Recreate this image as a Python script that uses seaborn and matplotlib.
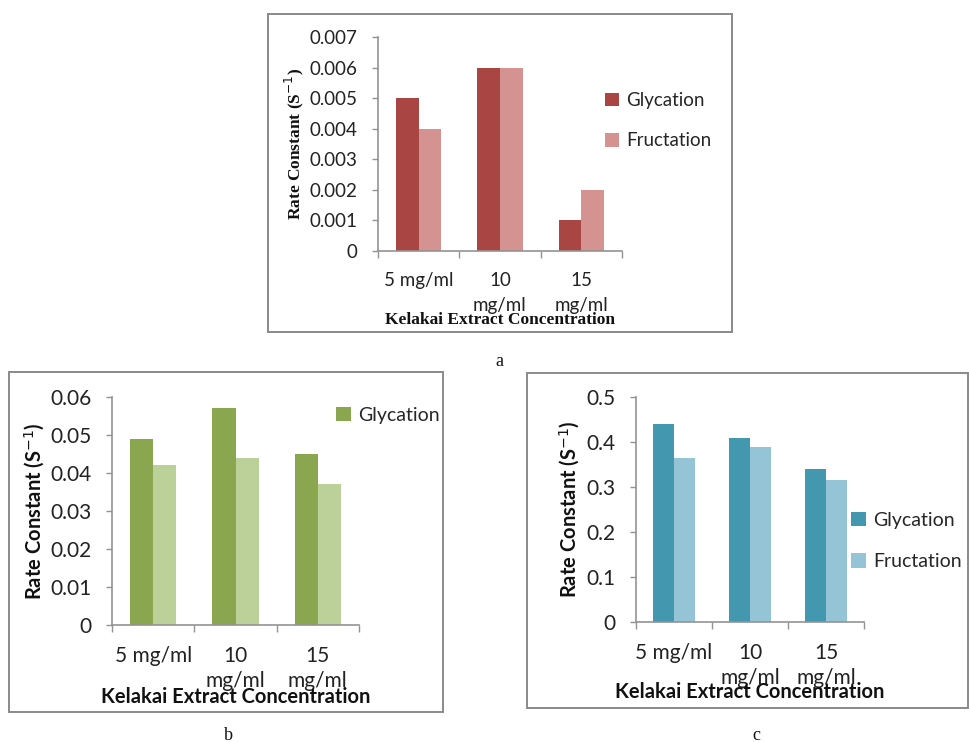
import matplotlib
matplotlib.use("Agg")
import matplotlib.pyplot as plt
import seaborn as sns
import pandas as pd
from matplotlib.patches import Rectangle, Patch

# ---- data ----
categories = ["5 mg/ml", "10\nmg/ml", "15\nmg/ml"]
series = ["Glycation", "Fructation"]
a_glycation = [0.005, 0.006, 0.001]
a_fructation = [0.004, 0.006, 0.002]
b_glycation = [0.049, 0.057, 0.045]
b_fructation = [0.042, 0.044, 0.037]
c_glycation = [0.44, 0.41, 0.34]
c_fructation = [0.365, 0.388, 0.315]
a_yticks = [0, 0.001, 0.002, 0.003, 0.004, 0.005, 0.006, 0.007]
a_yticklabels = ["0", "0.001", "0.002", "0.003", "0.004", "0.005", "0.006", "0.007"]
b_yticks = [0, 0.01, 0.02, 0.03, 0.04, 0.05, 0.06]
b_yticklabels = ["0", "0.01", "0.02", "0.03", "0.04", "0.05", "0.06"]
c_yticks = [0, 0.1, 0.2, 0.3, 0.4, 0.5]
c_yticklabels = ["0", "0.1", "0.2", "0.3", "0.4", "0.5"]
xlabel = "Kelakai Extract Concentration"
ylabel = r"Rate Constant (S$^{-1}$)"

sns.set_theme(style="white")
plt.rcParams["font.family"] = ["Lato", "DejaVu Sans"]

W, H = 970, 742
fig = plt.figure(figsize=(W / 100, H / 100), dpi=100)
fig.patch.set_facecolor("white")

SPINE = "#939393"


def px_axes(x0, y0, x1, y1):
    return fig.add_axes([x0 / W, 1 - y1 / H, (x1 - x0) / W, (y1 - y0) / H])


def box(x0, y0, x1, y1):
    fig.patches.append(Rectangle((x0 / W, 1 - y1 / H), (x1 - x0) / W, (y1 - y0) / H,
                                 transform=fig.transFigure, fill=False,
                                 edgecolor="#8a8a8a", linewidth=1.4, zorder=0))


def panel(ax, gly, fru, colors, yticks, yticklabels, ymax, tick_fs, ypad, linesp,
          lab_font, lab_fs, legend_names, legend_anchor, leg_fs, leg_spacing,
          ylabel_x, xlabel_y):
    df = pd.DataFrame({
        "conc": categories * 2,
        "rate": list(gly) + list(fru),
        "series": [series[0]] * 3 + [series[1]] * 3,
    })
    sns.barplot(data=df, x="conc", y="rate", hue="series", hue_order=series,
                palette=colors, width=0.56, saturation=1, ax=ax, legend=False,
                errorbar=None, edgecolor="none", linewidth=0)
    ax.set_xlim(-0.5, 2.5)
    ax.set_ylim(0, ymax)
    for s in ["top", "right"]:
        ax.spines[s].set_visible(False)
    for s in ["left", "bottom"]:
        ax.spines[s].set_color(SPINE)
        ax.spines[s].set_linewidth(1.2)
    ax.set_yticks(yticks)
    ax.set_yticklabels(yticklabels)
    ax.tick_params(axis="y", length=4.5, width=1, color=SPINE, pad=ypad,
                   labelsize=tick_fs, labelcolor="#222222", left=True)
    ax.set_xticks(range(3))
    ax.set_xticklabels(categories, linespacing=linesp)
    ax.tick_params(axis="x", which="major", length=0, pad=15, labelsize=tick_fs,
                   labelcolor="#222222", bottom=True)
    ax.set_xticks([-0.5, 0.5, 1.5, 2.5], minor=True)
    ax.tick_params(axis="x", which="minor", length=5, width=1, color=SPINE,
                   direction="out", bottom=True)
    ax.set_xlabel(xlabel, fontfamily=lab_font, fontweight="bold",
                  fontsize=lab_fs, color="#111111")
    ax.set_ylabel(ylabel, fontfamily=lab_font, fontweight="bold",
                  fontsize=lab_fs, color="#111111")
    pos = ax.get_position()
    ax.yaxis.set_label_coords((ylabel_x / W - pos.x0) / pos.width, 0.5)
    ax.xaxis.set_label_coords(0.5, ((1 - xlabel_y / H) - pos.y0) / pos.height)
    ax.xaxis.label.set_va("center")
    ax.yaxis.label.set_va("center")
    handles = [Patch(facecolor=colors[series.index(n)], edgecolor="none") for n in legend_names]
    ax.legend(handles, legend_names, loc="upper left",
              bbox_to_anchor=(legend_anchor[0] / W, 1 - legend_anchor[1] / H),
              bbox_transform=fig.transFigure, frameon=False, fontsize=leg_fs,
              handlelength=0.75, handleheight=0.75, handletextpad=0.4,
              labelspacing=leg_spacing, borderaxespad=0, borderpad=0)


# panel boxes
box(268, 14, 732, 332)
box(9, 372, 443, 712)
box(527, 373, 968, 708)

# panel a
ax_a = px_axes(378, 37, 622, 251)
panel(ax_a, a_glycation, a_fructation, ["#a94543", "#d49391"], a_yticks, a_yticklabels,
      0.007, 13.5, 10, 1.55, ["Liberation Serif", "DejaVu Serif"], 12.5,
      ["Glycation", "Fructation"], (605, 92), 13.5, 1.25, 294, 320)

# panel b
ax_b = px_axes(112, 397, 359, 625)
panel(ax_b, b_glycation, b_fructation, ["#8aa64e", "#bcd19a"], b_yticks, b_yticklabels,
      0.06, 15, 10.5, 1.3, ["Lato", "DejaVu Sans"], 14.5, ["Glycation"],
      (336, 407), 14, 1.25, 35, 697)

# panel c
ax_c = px_axes(636, 397, 864, 622)
panel(ax_c, c_glycation, c_fructation, ["#4398b0", "#94c4d6"], c_yticks, c_yticklabels,
      0.5, 15, 10.5, 1.3, ["Lato", "DejaVu Sans"], 14.5, ["Glycation", "Fructation"],
      (851, 512), 14, 1.25, 570, 692)

# panel letters
for txt, x, y in [("a", 499, 361), ("b", 228, 735), ("c", 756, 735)]:
    fig.text(x / W, 1 - y / H, txt, ha="center", va="center",
             fontfamily=["Liberation Serif", "DejaVu Serif"], fontsize=13, color="#111111")

fig.savefig("out.png", dpi=100, facecolor="white")
